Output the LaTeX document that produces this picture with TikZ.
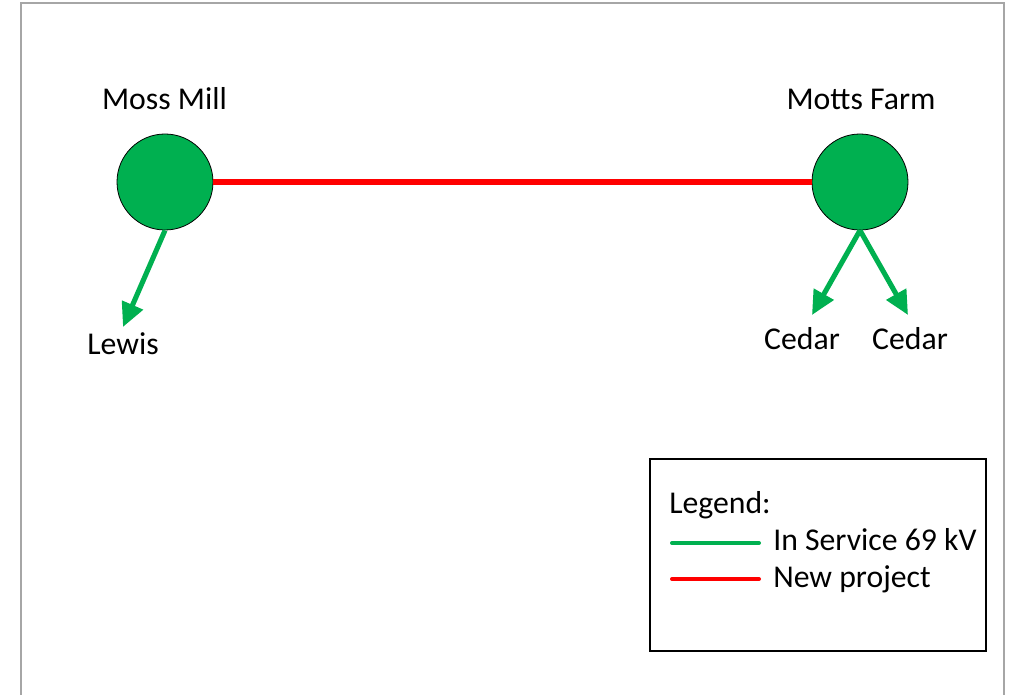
\documentclass[tikz,border=0pt]{standalone}
\usepackage{fontspec}
\setmainfont{Carlito}
\usetikzlibrary{arrows.meta}
\definecolor{linegreen}{HTML}{00B050}
\definecolor{linered}{HTML}{FF0000}
\definecolor{framegray}{HTML}{A6A6A6}

\begin{document}
\begin{tikzpicture}[x=0.75pt,y=-0.75pt,every node/.style={font=\fontsize{23.8}{28}\selectfont,inner sep=0pt},
  substation/.style={circle,draw,line width=0.6pt,fill=linegreen,minimum size=72pt},
  feeder/.style={linegreen,line width=3.8pt,-{Triangle[length=18pt,width=16.5pt]}},
  newline/.style={linered,line width=3.8pt}]
\useasboundingbox (0,0) rectangle (1015,695);
\draw[framegray,line width=1.1pt] (21,695) -- (21,3) -- (1004,3) -- (1004,695);
% substations
\node[substation] (mossmill) at (165,182) {};
\node[substation] (mottsfarm) at (860,182) {};
\node[anchor=base] (mossmilllabel) at (164.5,110) {Moss Mill};
\node[anchor=base] (mottsfarmlabel) at (861,110) {Motts Farm};
% feeder ends
\coordinate (lewisend) at (123,327);
\coordinate (cedarAend) at (812,315);
\coordinate (cedarBend) at (908,315);
\node[anchor=base] (lewis) at (123,355) {Lewis};
\node[anchor=base] (cedarA) at (802,350) {Cedar};
\node[anchor=base] (cedarB) at (910,350) {Cedar};
\draw[newline] (mossmill) -- (mottsfarm);
\draw[feeder] (mossmill.south) -- (lewisend);
\draw[feeder] (mottsfarm.south) -- (cedarAend);
\draw[feeder] (mottsfarm.south) -- (cedarBend);
% legend
\node[draw,line width=1.1pt,minimum width=252pt,minimum height=144pt] (legend) at (818,555) {};
\node[anchor=base west] (legendtitle) at (669,513) {Legend:};
\node[anchor=base west] (inservice) at (773,551) {In Service 69 kV};
\node[anchor=base west] (newproject) at (773,587) {New project};
\coordinate (inserviceA) at (672,543);
\coordinate (inserviceB) at (759,543);
\coordinate (newprojectA) at (672,579);
\coordinate (newprojectB) at (759,579);
\draw[linegreen,line width=3pt,line cap=round] (inserviceA) -- (inserviceB);
\draw[linered,line width=3pt,line cap=round] (newprojectA) -- (newprojectB);
\end{tikzpicture}
\end{document}
